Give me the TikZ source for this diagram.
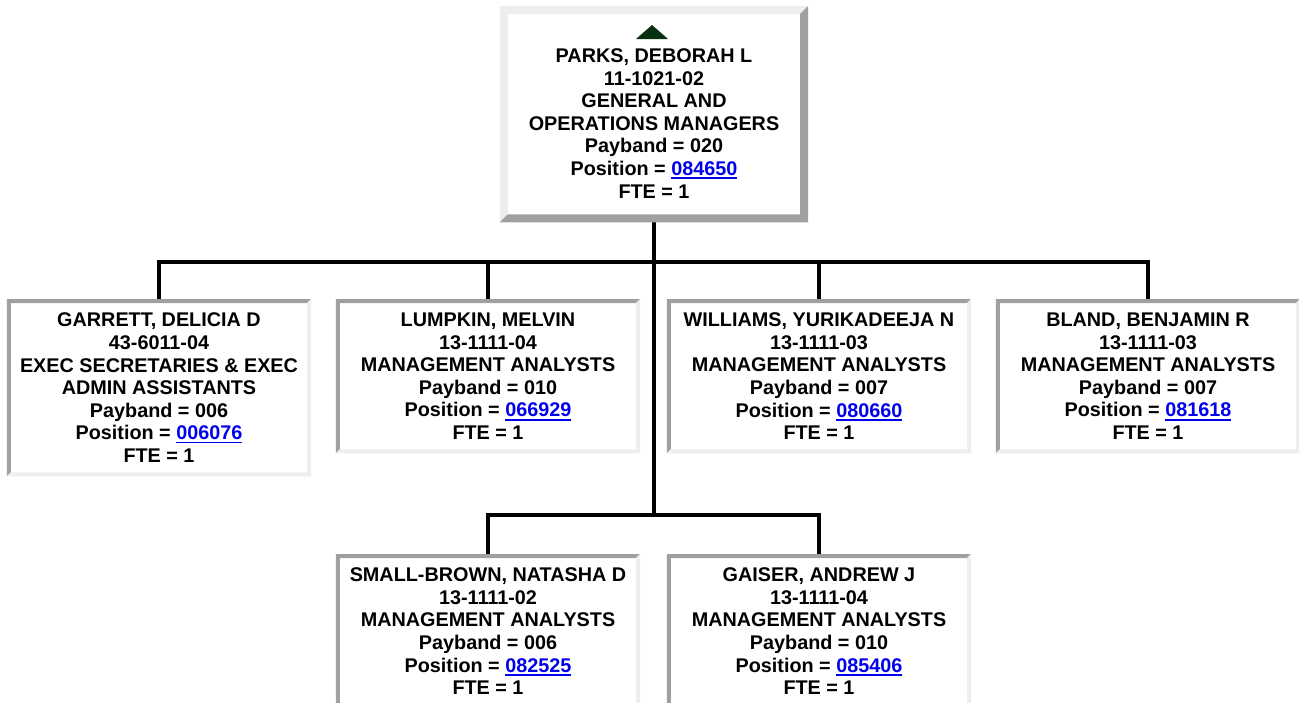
\documentclass[tikz,border=0pt]{standalone}
\usepackage{fontspec}
\setmainfont{Liberation Sans}
\usetikzlibrary{calc}
\definecolor{bevdark}{RGB}{160,160,160}
\definecolor{bevlight}{RGB}{238,238,238}
\definecolor{linkblue}{RGB}{0,0,238}
\definecolor{icongreen}{RGB}{8,48,16}
\newcommand\poslink[1]{\textcolor{linkblue}{\setbox0\hbox{#1}\rlap{\rule[-3.6pt]{\wd0}{1.8pt}}\box0}}
\newcommand\bevelbox[4]{%
  \fill[#3] (#1.north west) -- (#1.north east) -- ([xshift=-#2,yshift=-#2]#1.north east)
    -- ([xshift=#2,yshift=-#2]#1.north west) -- ([xshift=#2,yshift=#2]#1.south west) -- (#1.south west) -- cycle;
  \fill[#4] (#1.south east) -- (#1.north east) -- ([xshift=-#2,yshift=-#2]#1.north east)
    -- ([xshift=-#2,yshift=#2]#1.south east) -- ([xshift=#2,yshift=#2]#1.south west) -- (#1.south west) -- cycle;}
\begin{document}
\begin{tikzpicture}[x=1pt,y=-1pt,
  orgbox/.style={rectangle, inner sep=0pt, minimum width=304pt, minimum height=154pt,
    anchor=north, align=center, fill=white,
    font=\fontsize{19.8pt}{22.6pt}\selectfont\bfseries},
  conn/.style={line width=4pt, line join=miter, draw=black}]
\useasboundingbox (0,0) rectangle (1299,702);
\clip (0,0) rectangle (1299,702);
\fill[white] (0,0) rectangle (1299,702);

\node[orgbox, minimum width=308pt, minimum height=216pt] (parks) at (654,6)
  {\rule{0pt}{16.4pt}\\PARKS, DEBORAH L\\11-1021-02\\GENERAL AND\\OPERATIONS MANAGERS\\Payband = 020\\Position = \poslink{084650}\\FTE = 1\rule[-7pt]{0pt}{7pt}};

\node[orgbox, minimum height=177pt] (garrett) at (159,299)
  {GARRETT, DELICIA D\\43-6011-04\\EXEC SECRETARIES \& EXEC\\ADMIN ASSISTANTS\\Payband = 006\\Position = \poslink{006076}\\FTE = 1};
\node[orgbox] (lumpkin) at (488,299)
  {LUMPKIN, MELVIN\\13-1111-04\\MANAGEMENT ANALYSTS\\Payband = 010\\Position = \poslink{066929}\\FTE = 1};
\node[orgbox] (williams) at (819,299)
  {WILLIAMS, YURIKADEEJA N\\13-1111-03\\MANAGEMENT ANALYSTS\\Payband = 007\\Position = \poslink{080660}\\FTE = 1};
\node[orgbox] (bland) at (1148,299)
  {BLAND, BENJAMIN R\\13-1111-03\\MANAGEMENT ANALYSTS\\Payband = 007\\Position = \poslink{081618}\\FTE = 1};
\node[orgbox] (smallbrown) at (488,554)
  {SMALL-BROWN, NATASHA D\\13-1111-02\\MANAGEMENT ANALYSTS\\Payband = 006\\Position = \poslink{082525}\\FTE = 1};
\node[orgbox] (gaiser) at (819,554)
  {GAISER, ANDREW J\\13-1111-04\\MANAGEMENT ANALYSTS\\Payband = 010\\Position = \poslink{085406}\\FTE = 1};

\coordinate (bus1) at (654,261.5);
\coordinate (bus2) at (654,515.3);
\draw[conn] (parks.south) -- (bus2);
\draw[conn] (garrett.north) -- (garrett.north |- bus1) -- (bland.north |- bus1) -- (bland.north);
\draw[conn] (lumpkin.north) -- (lumpkin.north |- bus1);
\draw[conn] (williams.north) -- (williams.north |- bus1);
\draw[conn] (smallbrown.north) -- (smallbrown.north |- bus2) -- (gaiser.north |- bus2) -- (gaiser.north);

\bevelbox{parks}{8pt}{bevlight}{bevdark}
\foreach \b in {garrett,lumpkin,williams,bland,smallbrown,gaiser}{\bevelbox{\b}{4pt}{bevdark}{bevlight}}

\fill[icongreen] ([xshift=-2pt,yshift=-19pt]parks.north) -- ([xshift=14pt,yshift=-33pt]parks.north)
  -- ([xshift=-18pt,yshift=-33pt]parks.north) -- cycle;
\end{tikzpicture}
\end{document}
